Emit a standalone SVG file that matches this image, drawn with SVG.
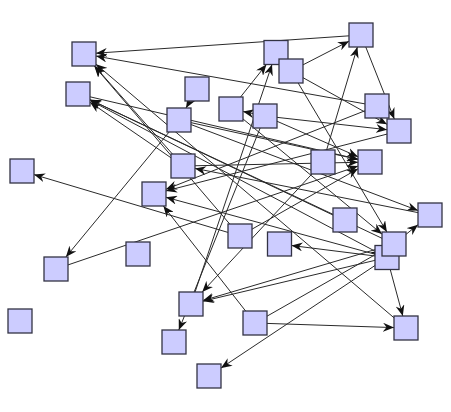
<svg xmlns="http://www.w3.org/2000/svg" width="451" height="412" viewBox="0 0 451 412">
<style>
.n{fill:#ccccff;stroke:#333344;stroke-width:1.3}
.e{stroke:#2a2a2a;stroke-width:1;fill:none;marker-end:url(#a)}
</style>
<defs>
<marker id="a" viewBox="0 0 11 9" refX="11" refY="4.5" markerWidth="11" markerHeight="9" markerUnits="userSpaceOnUse" orient="auto">
<path d="M0,0 L11,4.5 L0,9 L3.5,4.5 z" fill="#111"/>
</marker>
</defs>
<rect width="451" height="412" fill="#fff"/>
<g id="connectors">
<line class="e" x1="361" y1="35" x2="96" y2="53.2"/>
<line class="e" x1="377" y1="106" x2="96" y2="56.1"/>
<line class="e" x1="183" y1="166" x2="94.6" y2="66"/>
<line class="e" x1="240" y1="236" x2="94.3" y2="66"/>
<line class="e" x1="406" y1="328" x2="96" y2="64.2"/>
<line class="e" x1="183" y1="166" x2="90" y2="102.2"/>
<line class="e" x1="345" y1="220" x2="90" y2="99.7"/>
<line class="e" x1="394" y1="244" x2="90" y2="99.7"/>
<line class="e" x1="387" y1="257.5" x2="90" y2="100.3"/>
<line class="e" x1="78" y1="94" x2="358" y2="159.2"/>
<line class="e" x1="197" y1="89" x2="186" y2="108"/>
<line class="e" x1="179" y1="120" x2="358" y2="159.4"/>
<line class="e" x1="179" y1="120" x2="65.9" y2="257"/>
<line class="e" x1="179" y1="120" x2="418" y2="210.5"/>
<line class="e" x1="231" y1="109" x2="266.4" y2="64.5"/>
<line class="e" x1="191" y1="304" x2="272" y2="64.5"/>
<line class="e" x1="265" y1="116" x2="243" y2="111.5"/>
<line class="e" x1="265" y1="116" x2="387" y2="129.7"/>
<line class="e" x1="291" y1="71" x2="349" y2="41.2"/>
<line class="e" x1="291" y1="71" x2="387" y2="124.3"/>
<line class="e" x1="361" y1="35" x2="394.3" y2="119"/>
<line class="e" x1="323" y1="162" x2="357.4" y2="47"/>
<line class="e" x1="291" y1="71" x2="386.9" y2="232"/>
<line class="e" x1="377" y1="106" x2="166" y2="189.3"/>
<line class="e" x1="399" y1="131" x2="166" y2="190.9"/>
<line class="e" x1="387" y1="257.5" x2="166" y2="197.3"/>
<line class="e" x1="255" y1="323" x2="163.4" y2="206"/>
<line class="e" x1="430" y1="215" x2="195" y2="168.4"/>
<line class="e" x1="183" y1="166" x2="358" y2="162.3"/>
<line class="e" x1="56" y1="269" x2="358" y2="166.1"/>
<line class="e" x1="240" y1="236" x2="34" y2="174.6"/>
<line class="e" x1="323" y1="162" x2="202.2" y2="292"/>
<line class="e" x1="394" y1="244" x2="203" y2="300.5"/>
<line class="e" x1="387" y1="257.5" x2="203" y2="301.2"/>
<line class="e" x1="387" y1="257.5" x2="221" y2="368"/>
<line class="e" x1="265" y1="116" x2="178.8" y2="330"/>
<line class="e" x1="255" y1="323" x2="394" y2="327.6"/>
<line class="e" x1="387" y1="257.5" x2="402.8" y2="316"/>
<line class="e" x1="394" y1="244" x2="418" y2="224.7"/>
<line class="e" x1="387" y1="257.5" x2="291.5" y2="245.5"/>
<line class="e" x1="255" y1="323" x2="382" y2="250.8"/>
<line class="e" x1="231" y1="109" x2="382" y2="234.1"/>
<line class="e" x1="265" y1="116" x2="358" y2="156.7"/>
<line class="e" x1="240" y1="236" x2="358" y2="168.8"/>
</g>
<g id="n1"><rect class="n" x="72" y="42" width="24" height="24"/></g>
<g id="n2"><rect class="n" x="66" y="82" width="24" height="24"/></g>
<g id="n3"><rect class="n" x="185" y="77" width="24" height="24"/></g>
<g id="n4"><rect class="n" x="167" y="108" width="24" height="24"/></g>
<g id="n5"><rect class="n" x="10" y="159" width="24" height="24"/></g>
<g id="n6"><rect class="n" x="171" y="154" width="24" height="24"/></g>
<g id="n7"><rect class="n" x="142" y="182" width="24" height="24"/></g>
<g id="n8"><rect class="n" x="219" y="97" width="24" height="24"/></g>
<g id="n9"><rect class="n" x="349" y="23" width="24" height="24"/></g>
<g id="n10"><rect class="n" x="264" y="40.5" width="24" height="24"/></g>
<g id="n11"><rect class="n" x="279" y="59" width="24" height="24"/></g>
<g id="n12"><rect class="n" x="253" y="104" width="24" height="24"/></g>
<g id="n13"><rect class="n" x="365" y="94" width="24" height="24"/></g>
<g id="n14"><rect class="n" x="387" y="119" width="24" height="24"/></g>
<g id="n15"><rect class="n" x="311" y="150" width="24" height="24"/></g>
<g id="n16"><rect class="n" x="358" y="150" width="24" height="24"/></g>
<g id="n17"><rect class="n" x="418" y="203" width="24" height="24"/></g>
<g id="n18"><rect class="n" x="333" y="208" width="24" height="24"/></g>
<g id="n19"><rect class="n" x="228" y="224" width="24" height="24"/></g>
<g id="n20"><rect class="n" x="267.5" y="232" width="24" height="24"/></g>
<g id="n22"><rect class="n" x="375" y="245.5" width="24" height="24"/></g>
<g id="n21"><rect class="n" x="382" y="232" width="24" height="24"/></g>
<g id="n23"><rect class="n" x="243" y="311" width="24" height="24"/></g>
<g id="n24"><rect class="n" x="394" y="316" width="24" height="24"/></g>
<g id="n25"><rect class="n" x="197" y="364" width="24" height="24"/></g>
<g id="n27"><rect class="n" x="126" y="242" width="24" height="24"/></g>
<g id="n28"><rect class="n" x="44" y="257" width="24" height="24"/></g>
<g id="n29"><rect class="n" x="179" y="292" width="24" height="24"/></g>
<g id="n30"><rect class="n" x="8" y="309" width="24" height="24"/></g>
<g id="n31"><rect class="n" x="162" y="330" width="24" height="24"/></g>
</svg>
